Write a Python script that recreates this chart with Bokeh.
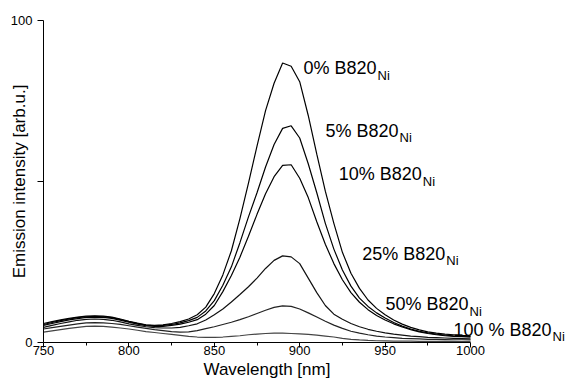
from bokeh.plotting import figure
from bokeh.models import Range1d, FixedTicker, Label, Title
from bokeh.embed import file_html
from bokeh.resources import INLINE

# ---------------- data ----------------
wavelength = list(range(750, 1001, 5))

b820_0 = [5.9, 6.5, 7.0, 7.5, 7.9, 8.2, 8.3, 8.2, 7.9, 7.3,
          6.6, 6.0, 5.5, 5.3, 5.5, 5.9, 6.5, 7.3, 8.6, 11.0,
          15.2, 21.0, 28.5, 38.5, 49.5, 61.0, 72.0, 80.5, 86.8, 85.8,
          81.0, 70.5, 58.5, 47.0, 37.0, 28.0, 21.5, 16.8, 13.2, 10.6,
          8.6, 7.0, 5.7, 4.7, 3.9, 3.3, 2.9, 2.6, 2.4, 2.2, 2.1]
b820_5 = [5.6, 6.2, 6.8, 7.3, 7.7, 8.0, 8.1, 8.0, 7.7, 7.1,
          6.5, 5.9, 5.4, 5.2, 5.3, 5.6, 6.1, 6.8, 7.8, 9.8,
          13.0, 17.8, 23.5, 31.0, 39.0, 46.5, 54.5, 61.5, 66.5, 67.3,
          63.5, 55.5, 46.5, 37.0, 29.0, 22.5, 17.5, 13.8, 11.2, 9.2,
          7.6, 6.2, 5.1, 4.2, 3.5, 3.0, 2.6, 2.3, 2.1, 2.0, 1.9]
b820_10 = [5.3, 5.9, 6.5, 7.0, 7.4, 7.8, 7.9, 7.8, 7.5, 6.9,
           6.3, 5.7, 5.2, 5.0, 5.0, 5.3, 5.7, 6.3, 7.1, 8.8,
           11.5, 15.8, 20.8, 26.5, 33.0, 39.8, 46.2, 51.5, 55.0, 55.2,
           51.0, 45.0, 37.5, 30.5, 24.5, 19.5, 15.5, 12.5, 10.2, 8.4,
           7.0, 5.8, 4.8, 4.0, 3.3, 2.8, 2.4, 2.1, 1.9, 1.8, 1.7]
b820_25 = [4.7, 5.3, 5.9, 6.4, 6.9, 7.2, 7.3, 7.2, 6.9, 6.4,
           5.8, 5.3, 4.9, 4.6, 4.5, 4.5, 4.7, 5.2, 5.8, 7.0,
           8.6, 10.4, 12.6, 14.9, 17.3, 20.0, 23.0, 25.5, 26.9, 26.6,
           24.5, 20.0, 15.5, 11.5, 8.8, 7.2, 5.9, 4.9, 4.1, 3.5,
           3.0, 2.6, 2.3, 2.0, 1.8, 1.6, 1.5, 1.4, 1.3, 1.2, 1.1]
b820_50 = [4.2, 4.6, 5.0, 5.4, 5.8, 6.1, 6.2, 6.1, 5.9, 5.6,
           5.2, 4.8, 4.4, 4.0, 3.7, 3.4, 3.2, 3.3, 3.7, 4.3,
           4.9, 5.6, 6.3, 7.1, 8.0, 9.0, 10.0, 10.9, 11.4, 11.2,
           10.4, 9.2, 7.9, 6.6, 5.4, 4.4, 3.5, 2.9, 2.4, 2.0,
           1.7, 1.5, 1.3, 1.2, 1.1, 1.0, 0.95, 0.9, 0.85, 0.85, 0.8]
b820_100 = [3.2, 3.6, 4.0, 4.4, 4.7, 5.0, 5.1, 5.0, 4.8, 4.5,
            4.2, 3.8, 3.4, 3.1, 2.8, 2.5, 2.2, 1.9, 1.7, 1.6,
            1.6, 1.7, 1.9, 2.1, 2.4, 2.6, 2.8, 2.9, 2.9, 2.8,
            2.7, 2.5, 2.3, 2.0, 1.7, 1.3, 1.0, 0.8, 0.65, 0.55,
            0.5, 0.45, 0.42, 0.4, 0.38, 0.36, 0.35, 0.33, 0.32, 0.3, 0.3]

series = [b820_0, b820_5, b820_10, b820_25, b820_50, b820_100]
series_colors = ["#000000", "#000000", "#000000", "#111111", "#222222", "#444444"]

label_main = ["0% B820", "5% B820", "10% B820", "25% B820", "50% B820", "100 % B820"]
label_sub = "Ni"
label_x = [902.2, 915.1, 922.9, 936.6, 950.2, 990.0]
label_y = [85.2, 65.8, 52.3, 27.5, 11.9, 3.9]

x_ticks = [750, 800, 850, 900, 950, 1000]
x_minor = [775, 825, 875, 925, 975]
y_ticks = [0, 50, 100]

# Arial / Liberation Sans advance widths (em)
ADV = {"0": .556, "1": .556, "2": .556, "5": .556, "8": .556, "%": .889,
       " ": .278, "B": .667, "N": .722, "i": .222}


def text_width(s, size):
    return sum(ADV.get(c, .556) for c in s) * size


FONT = "Liberation Sans"
MAIN_SIZE = 18
SUB_SIZE = 13

# ---------------- figure ----------------
# frame extends to the right edge so that the curve labels are not clipped;
# the axis itself is bounded to 750..1000
p = figure(width=566, height=380, output_backend="svg", toolbar_location=None,
           x_range=Range1d(750, 1056.2), y_range=Range1d(0, 100),
           min_border_left=43, min_border_right=0,
           min_border_top=20, min_border_bottom=38)
p.outline_line_color = None
p.xgrid.visible = False
p.ygrid.visible = False
p.background_fill_color = "white"
p.border_fill_color = "white"

for ys, col in zip(series, series_colors):
    p.line(wavelength, ys, line_color=col, line_width=1.2)

# axes
xa = p.xaxis[0]
xa.bounds = (750, 1000)
xa.ticker = FixedTicker(ticks=x_ticks, minor_ticks=x_minor)
xa.major_tick_out = 5
xa.major_tick_in = 0
xa.minor_tick_out = 3
xa.minor_tick_in = 0
xa.major_label_standoff = -2
xa.axis_line_color = "black"
xa.major_tick_line_color = "black"
xa.minor_tick_line_color = "black"
xa.major_label_text_font = FONT
xa.major_label_text_font_size = "13px"
xa.major_label_text_color = "black"

ya = p.yaxis[0]
ya.ticker = FixedTicker(ticks=y_ticks, minor_ticks=[])
ya.major_label_overrides = {50: ""}
ya.major_tick_out = 6
ya.major_tick_in = 0
ya.minor_tick_out = 0
ya.minor_tick_in = 0
ya.major_label_standoff = 5
ya.axis_line_color = "black"
ya.major_tick_line_color = "black"
ya.major_label_text_font = FONT
ya.major_label_text_font_size = "13px"
ya.major_label_text_color = "black"
ya.axis_label = "Emission intensity [arb.u.]"
ya.axis_label_text_font = FONT
ya.axis_label_text_font_size = "17px"
ya.axis_label_text_font_style = "normal"
ya.axis_label_text_color = "black"
ya.axis_label_standoff = -21

# x axis title, offset to the right as in the reference
p.add_layout(Title(text="Wavelength [nm]", align="left", offset=160, standoff=0,
                   text_font=FONT, text_font_size="17px", text_font_style="normal",
                   text_color="black"), "below")

# curve labels with subscript
for txt, lx, ly in zip(label_main, label_x, label_y):
    p.add_layout(Label(x=lx, y=ly, text=txt, text_align="left",
                       text_baseline="alphabetic", text_font=FONT,
                       text_font_size=f"{MAIN_SIZE}px", text_color="black"))
    p.add_layout(Label(x=lx, y=ly, text=label_sub, text_align="left",
                       text_baseline="alphabetic", text_font=FONT,
                       x_offset=text_width(txt, MAIN_SIZE) + 1, y_offset=-7,
                       text_font_size=f"{SUB_SIZE}px", text_color="black"))

open("out.html", "w").write(file_html(p, INLINE))
